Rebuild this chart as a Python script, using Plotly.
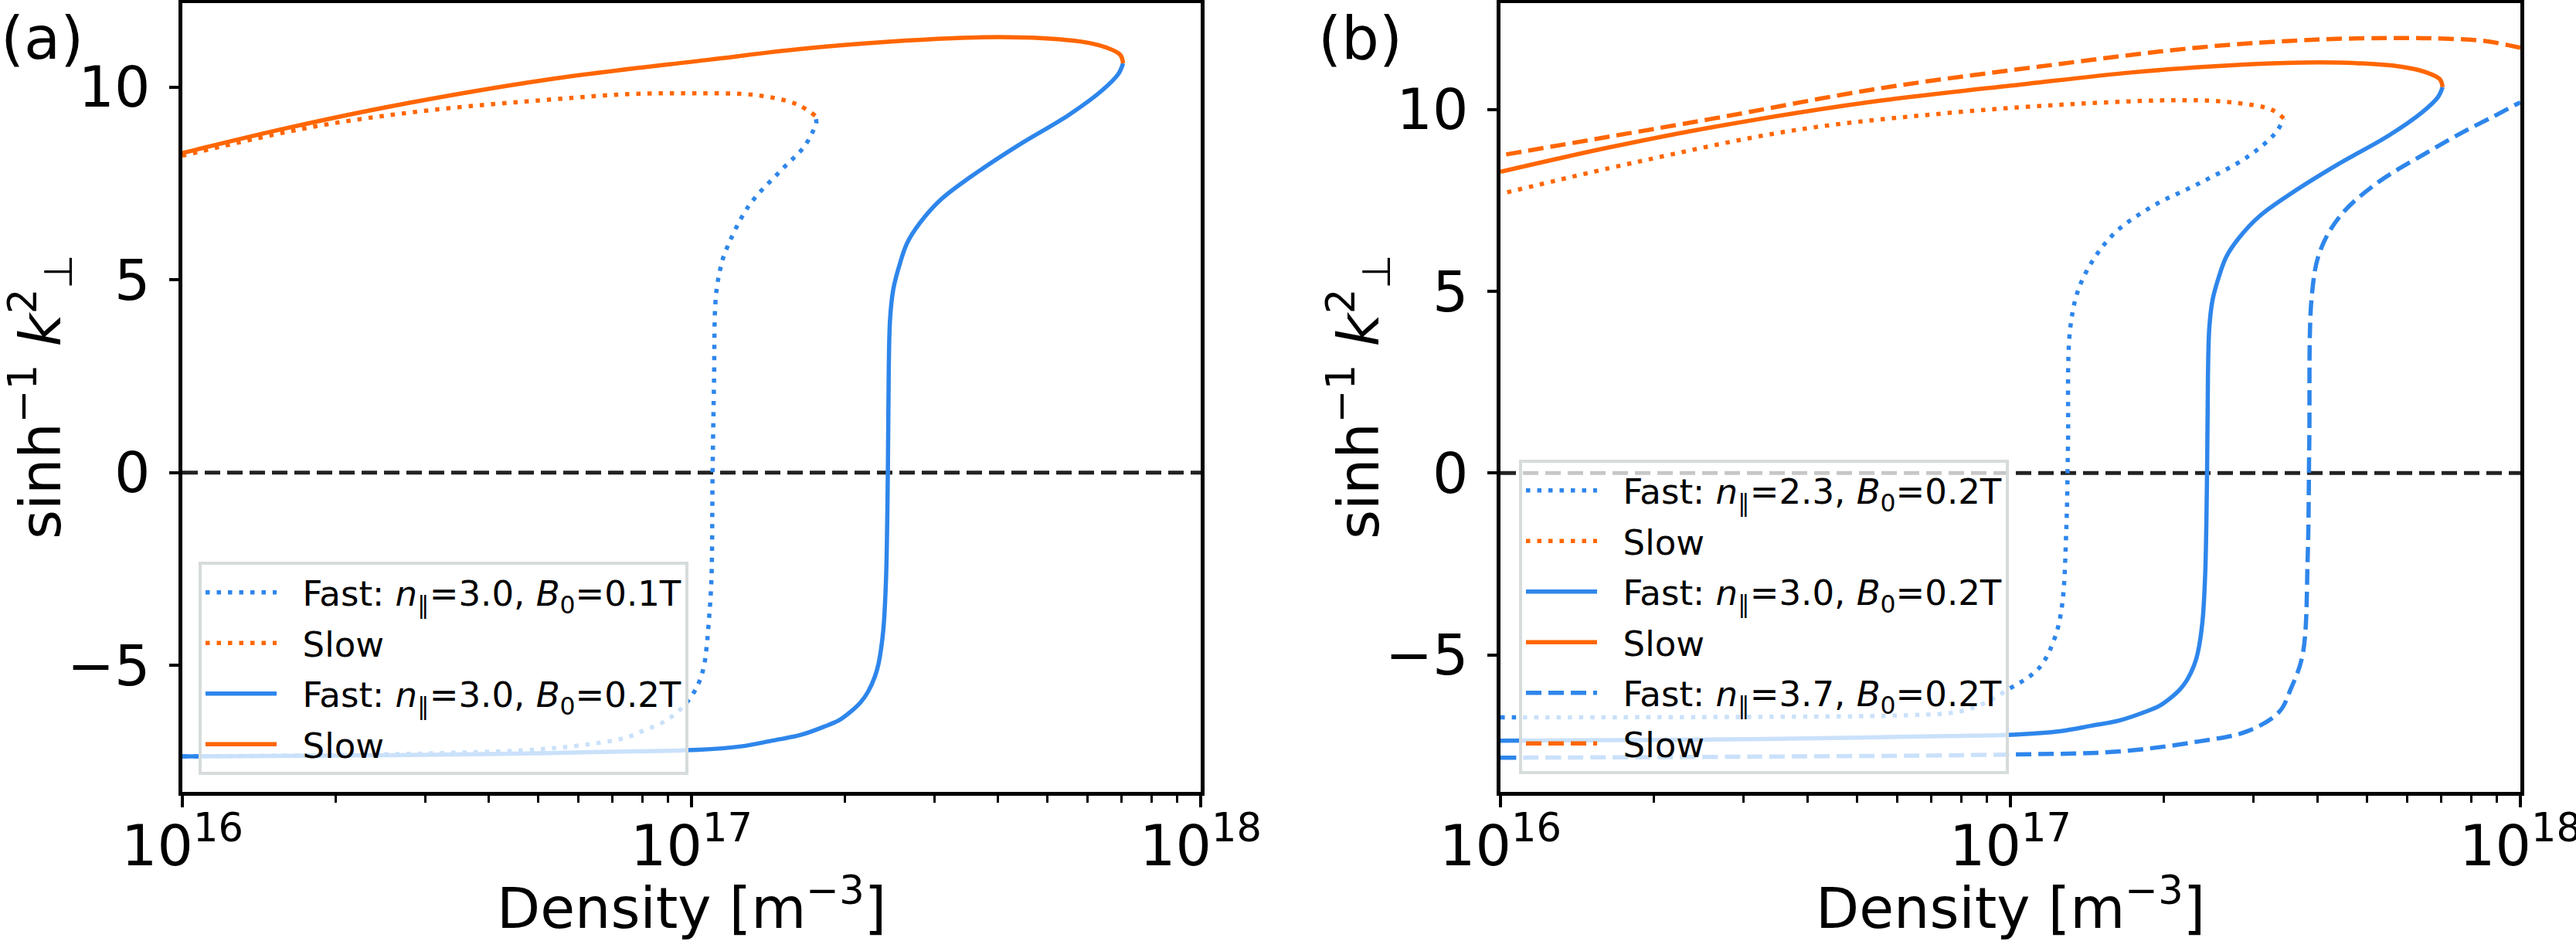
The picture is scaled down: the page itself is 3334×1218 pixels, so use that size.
import plotly.graph_objects as go

BLUE = "#2E86EB"
ORANGE = "#FF6600"
FONT = "DejaVu Sans"

# densities [m^-3] and asinh(k_perp^2)
# n_par = 3.0, B0 = 0.2 T  (drawn in both panels)
FAST_A_N = [1.00e16, 2.00e16, 4.00e16, 6.30e16, 1.03e17, 1.25e17, 1.44e17, 1.64e17,
            1.82e17, 1.95e17, 2.05e17, 2.15e17, 2.22e17, 2.29e17, 2.33e17, 2.38e17,
            2.41e17, 2.43e17, 2.44e17, 2.455e17, 2.49e17, 2.55e17, 2.65e17, 2.81e17,
            3.08e17, 3.54e17, 4.37e17, 5.51e17, 6.41e17, 6.89e17, 7.04e17]
FAST_A_K = [-7.36, -7.34, -7.30, -7.25, -7.19, -7.10, -6.95, -6.80,
            -6.59, -6.42, -6.21, -5.95, -5.69, -5.30, -4.95, -4.09,
            -2.75, 0.00, 2.73, 4.00, 4.75, 5.30, 5.95, 6.48,
            7.07, 7.68, 8.48, 9.28, 9.92, 10.34, 10.62]
SLOW_A_N = [7.04e17, 6.95e17, 6.55e17, 5.83e17, 4.90e17, 4.02e17, 3.26e17, 2.44e17,
            1.72e17, 1.08e17, 5.31e16, 2.61e16, 1.62e16, 1.00e16]
SLOW_A_K = [10.62, 10.84, 11.02, 11.18, 11.27, 11.30, 11.27, 11.18,
            11.02, 10.71, 10.21, 9.52, 8.95, 8.29]

# n_par = 3.0, B0 = 0.1 T
FAST_B01_N = [1.00e16, 3.09e16, 5.31e16, 7.35e16, 8.05e16, 8.85e16, 9.59e16, 1.02e17,
              1.055e17, 1.07e17, 1.08e17, 1.094e17, 1.100e17, 1.107e17, 1.117e17, 1.143e17,
              1.167e17, 1.294e17, 1.496e17, 1.663e17, 1.738e17, 1.758e17, 1.750e17]
FAST_B01_K = [-7.36, -7.28, -7.15, -6.89, -6.69, -6.45, -6.09, -5.61,
              -5.09, -4.55, -3.95, -2.81, 0.00, 2.30, 4.60, 5.37,
              5.75, 6.91, 7.83, 8.45, 8.90, 9.06, 9.26]
SLOW_B01_N = [1.750e17, 1.607e17, 1.346e17, 1.012e17, 7.59e16, 5.31e16, 3.11e16, 1.82e16, 1.00e16]
SLOW_B01_K = [9.26, 9.56, 9.79, 9.84, 9.82, 9.68, 9.41, 8.98, 8.22]

# n_par = 2.3, B0 = 0.2 T
FAST_23_N = [1.00e16, 3.80e16, 6.31e16, 7.89e16, 8.91e16, 9.77e16, 1.135e17, 1.219e17,
             1.262e17, 1.288e17, 1.297e17, 1.312e17, 1.380e17, 1.574e17, 1.888e17, 2.344e17,
             2.917e17, 3.311e17, 3.436e17]
FAST_23_K = [-6.72, -6.70, -6.66, -6.57, -6.32, -6.00, -5.38, -4.57,
             -3.66, -1.40, 0.80, 4.06, 5.28, 6.50, 7.32, 7.97,
             8.70, 9.36, 9.76]
SLOW_23_N = [3.436e17, 3.25e17, 2.71e17, 2.18e17, 1.358e17, 7.89e16, 3.80e16, 1.84e16, 1.00e16]
SLOW_23_K = [9.76, 10.00, 10.20, 10.26, 10.16, 9.93, 9.44, 8.55, 7.68]

# n_par = 3.7, B0 = 0.2 T
FAST_37_N = [1.00e16, 3.16e16, 1.019e17, 1.622e17, 2.344e17, 2.917e17, 3.365e17, 3.548e17,
             3.741e17, 3.828e17, 3.855e17, 3.899e17, 4.046e17, 4.436e17, 5.224e17, 6.486e17,
             7.762e17, 8.913e17, 9.772e17, 1.00e18]
FAST_37_K = [-7.83, -7.80, -7.74, -7.66, -7.38, -7.10, -6.57, -5.93,
             -5.00, -2.30, 0.80, 4.87, 6.10, 7.08, 7.97, 8.78,
             9.40, 9.83, 10.13, 10.20]
SLOW_37_N = [1.00e18, 9.49e17, 8.51e17, 6.76e17, 5.82e17, 4.046e17, 2.344e17, 1.135e17,
             5.47e16, 2.63e16, 1.535e16, 1.00e16]
SLOW_37_K = [11.70, 11.77, 11.89, 11.96, 11.97, 11.93, 11.71, 11.18,
             10.57, 9.76, 9.19, 8.74]

ZERO_LEVEL = 0.0
X_RANGE = [16, 18]
Y_RANGE_A = [-8.28, 12.18]
Y_RANGE_B = [-8.77, 12.93]
MAJOR_TICKS = [1e16, 1e17, 1e18]
MAJOR_TEXT = ["10<sup>16</sup>", "10<sup>17</sup>", "10<sup>18</sup>"]
MINOR_TICKS = [2e16, 3e16, 4e16, 5e16, 6e16, 7e16, 8e16, 9e16,
               2e17, 3e17, 4e17, 5e17, 6e17, 7e17, 8e17, 9e17]
Y_TICKS = [-5, 0, 5, 10]
Y_TEXT = ["\u22125", "0", "5", "10"]

DOT = "5.5px,9px"
DASH = "20px,9px"
LW = 5.5
GAP = "\u00a0\u00a0"


def label(npar, b0):
    return (GAP + "Fast: <i>n</i><sub>\u2225</sub>=" + npar +
            ", <i>B</i><sub>0</sub>=" + b0 + "T")


SLOW_LABEL = GAP + "Slow<sub>\u00a0</sub>"

fig = go.Figure()


def add(n, k, color, dash, name, ax, legend, group):
    fig.add_trace(go.Scatter(
        x=n, y=k, mode="lines", name=name,
        line=dict(color=color, width=LW, dash=dash, shape="spline", smoothing=1.0),
        xaxis="x" + ax, yaxis="y" + ax, legend=legend, legendgroup=group,
        hoverinfo="skip",
    ))


# panel (a)
add(FAST_B01_N, FAST_B01_K, BLUE, DOT, label("3.0", "0.1"), "", "legend", "a1")
add(SLOW_B01_N, SLOW_B01_K, ORANGE, DOT, SLOW_LABEL, "", "legend", "a2")
add(FAST_A_N, FAST_A_K, BLUE, "solid", label("3.0", "0.2"), "", "legend", "a3")
add(SLOW_A_N, SLOW_A_K, ORANGE, "solid", SLOW_LABEL, "", "legend", "a4")

# panel (b)
add(FAST_23_N, FAST_23_K, BLUE, DOT, label("2.3", "0.2"), "2", "legend2", "b1")
add(SLOW_23_N, SLOW_23_K, ORANGE, DOT, SLOW_LABEL, "2", "legend2", "b2")
add(FAST_A_N, FAST_A_K, BLUE, "solid", label("3.0", "0.2"), "2", "legend2", "b3")
add(SLOW_A_N, SLOW_A_K, ORANGE, "solid", SLOW_LABEL, "2", "legend2", "b4")
add(FAST_37_N, FAST_37_K, BLUE, DASH, label("3.7", "0.2"), "2", "legend2", "b5")
add(SLOW_37_N, SLOW_37_K, ORANGE, DASH, SLOW_LABEL, "2", "legend2", "b6")

W, H = 3334, 1218
XDOM_A = [236 / W, 1554 / W]
XDOM_B = [1942 / W, 3262 / W]
YDOM = [(H - 1025) / H, (H - 4) / H]

xaxis_common = dict(
    type="log", range=X_RANGE, tickmode="array", tickvals=MAJOR_TICKS, ticktext=MAJOR_TEXT,
    ticks="outside", ticklen=15, tickwidth=3.5, tickcolor="black",
    showline=True, linewidth=5, linecolor="black", mirror=True,
    showgrid=False, zeroline=False, automargin=False, ticklabeloverflow="allow",
    ticklabelstandoff=-13,
    tickfont=dict(family=FONT, size=73, color="black"),
    minor=dict(tickvals=MINOR_TICKS, ticks="outside", ticklen=9, tickwidth=3,
               tickcolor="black", showgrid=False),
)
yaxis_common = dict(
    tickmode="array", tickvals=Y_TICKS, ticktext=Y_TEXT,
    ticks="outside", ticklen=12, tickwidth=3.5, tickcolor="black",
    showline=True, linewidth=5, linecolor="black", mirror=True,
    showgrid=False, zeroline=False, automargin=False, ticklabelstandoff=10,
    tickfont=dict(family=FONT, size=73, color="black"),
)

legend_common = dict(
    bgcolor="rgba(255,255,255,0.75)", bordercolor="#d6dbdb", borderwidth=4,
    font=dict(family=FONT, size=45, color="black"),
    itemwidth=92, tracegroupgap=4, xanchor="left", yanchor="top",
)

fig.update_layout(
    width=W, height=H,
    margin=dict(l=0, r=0, t=0, b=0, autoexpand=False),
    paper_bgcolor="white", plot_bgcolor="white",
    font=dict(family=FONT, color="black"),
    xaxis=dict(domain=XDOM_A, anchor="y", **xaxis_common),
    yaxis=dict(domain=YDOM, anchor="x", range=Y_RANGE_A, **yaxis_common),
    xaxis2=dict(domain=XDOM_B, anchor="y2", **xaxis_common),
    yaxis2=dict(domain=YDOM, anchor="x2", range=Y_RANGE_B, **yaxis_common),
    legend=dict(x=257 / W, y=1 - 727 / H, **legend_common),
    legend2=dict(x=1966 / W, y=1 - 595 / H, **legend_common),
    showlegend=True,
)

# dashed k_perp^2 = 0 reference line in each panel
for ax in ["", "2"]:
    fig.add_shape(type="line", xref="x" + ax + " domain", yref="y" + ax,
                  x0=0, x1=1, y0=ZERO_LEVEL, y1=ZERO_LEVEL,
                  line=dict(color="#222222", width=5, dash="20px,9px"), layer="below")

ytitle = "sinh<sup>\u22121</sup> <i>k</i><sup>2</sup><sub>\u22a5</sub>"
xtitle = "Density [m<sup>\u22123</sup>]"
for xc, xmid, tag in [(52, (236 + 1554) / 2, "(a)"), (1758, (1942 + 3262) / 2, "(b)")]:
    fig.add_annotation(text=ytitle, textangle=-90, xref="paper", yref="paper",
                       x=xc / W, y=1 - 514 / H, showarrow=False,
                       xanchor="center", yanchor="middle",
                       font=dict(family=FONT, size=73, color="black"))
    fig.add_annotation(text=xtitle, xref="paper", yref="paper",
                       x=xmid / W, y=1 - 1170 / H, showarrow=False,
                       xanchor="center", yanchor="middle",
                       font=dict(family=FONT, size=73, color="black"))
    fig.add_annotation(text=tag, xref="paper", yref="paper",
                       x=(xc + 2) / W, y=1 - 50 / H, showarrow=False,
                       xanchor="center", yanchor="middle",
                       font=dict(family=FONT, size=77, color="black"))

fig.write_html("out.html", config={"displayModeBar": False},
               post_script="document.body.style.margin='0';"
                           "document.body.style.overflow='hidden';")
